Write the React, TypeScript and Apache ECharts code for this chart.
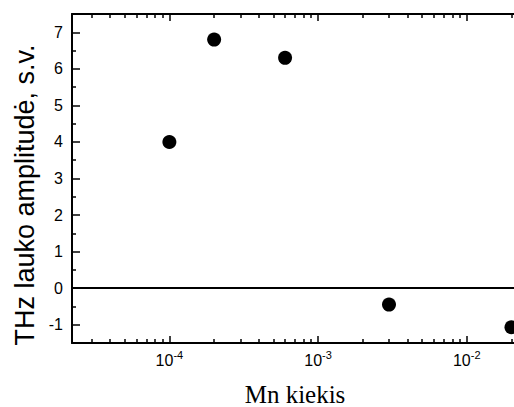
import React, { useEffect, useRef } from "react";
import * as echarts from "echarts";

const mnAmounts = [1e-4, 2e-4, 6e-4, 3e-3, 2e-2];
const thzAmplitudes = [4.0, 6.8, 6.3, -0.45, -1.07];
const yMajorTicks = [-1, 0, 1, 2, 3, 4, 5, 6, 7];
const yMinorTicks = [-0.5, 0.5, 1.5, 2.5, 3.5, 4.5, 5.5, 6.5];
const xMajorExponents = [-4, -3, -2];
const xMinorValues = [
  3e-5, 4e-5, 5e-5, 6e-5, 7e-5, 8e-5, 9e-5,
  2e-4, 3e-4, 4e-4, 5e-4, 6e-4, 7e-4, 8e-4, 9e-4,
  2e-3, 3e-3, 4e-3, 5e-3, 6e-3, 7e-3, 8e-3, 9e-3,
  2e-2,
];
const xMinLog = -4.655;
const xMaxLog = -1.682;
const yMin = -1.5;
const yMax = 7.5;

const sans = "Liberation Sans";
const serif = "Liberation Serif";

export default function App() {
  const ref = useRef<HTMLDivElement>(null);
  useEffect(() => {
    if (!ref.current) return;
    const chart = echarts.init(ref.current, undefined, { renderer: "svg" });
    const gridPos = { left: 72, top: 14, right: 0, bottom: 64, containLabel: false };
    const lineStyle = { color: "#000", width: 2 };
    const majorTickX = xMajorExponents.slice();
    const minorTickX = xMinorValues.map((v) => Math.log10(v));
    const xBase = (gridIndex: number, position: string, ticks: number[], len: number, showLine: boolean) => ({
      type: "value",
      gridIndex,
      position,
      min: xMinLog,
      max: xMaxLog,
      splitLine: { show: false },
      axisLine: { show: showLine, onZero: false, lineStyle },
      axisTick: { show: true, inside: true, length: len, customValues: ticks, lineStyle: { color: "#000", width: 1.5 } },
      axisLabel: { show: false },
    });
    chart.setOption({
      animation: false,
      grid: [gridPos, gridPos],
      xAxis: [
        {
          ...xBase(0, "bottom", majorTickX, 7, true),
          axisLabel: {
            show: true,
            customValues: xMajorExponents,
            margin: 8,
            formatter: (v: number) => `{b|10}{s|${Math.round(v)}}`,
            rich: {
              b: { fontFamily: sans, fontSize: 16, color: "#000", verticalAlign: "bottom", lineHeight: 17 },
              s: { fontFamily: sans, fontSize: 11, color: "#000", verticalAlign: "bottom", lineHeight: 12, padding: [0, 0, 8, 0] },
            },
          },
        },
        xBase(0, "top", majorTickX, 7, true),
        xBase(1, "bottom", minorTickX, 4, false),
        xBase(1, "top", minorTickX, 4, false),
      ],
      yAxis: [
        {
          type: "value",
          gridIndex: 0,
          position: "left",
          min: yMin,
          max: yMax,
          splitLine: { show: false },
          axisLine: { show: true, onZero: false, lineStyle },
          axisTick: { show: true, inside: true, length: 8, customValues: yMajorTicks, lineStyle: { color: "#000", width: 1.5 } },
          axisLabel: {
            show: true,
            customValues: yMajorTicks,
            margin: 9,
            fontFamily: sans,
            fontSize: 16,
            color: "#000",
          },
        },
        {
          type: "value",
          gridIndex: 1,
          position: "left",
          min: yMin,
          max: yMax,
          splitLine: { show: false },
          axisLine: { show: false, onZero: false },
          axisTick: { show: true, inside: true, length: 4, customValues: yMinorTicks, lineStyle: { color: "#000", width: 1.5 } },
          axisLabel: { show: false },
        },
      ],
      series: [
        {
          type: "scatter",
          xAxisIndex: 0,
          yAxisIndex: 0,
          symbol: "circle",
          symbolSize: 14,
          itemStyle: { color: "#000", opacity: 1 },
          data: mnAmounts.map((x, i) => [Math.log10(x), thzAmplitudes[i]]),
          markLine: {
            silent: true,
            symbol: "none",
            label: { show: false },
            lineStyle: { color: "#000", width: 2, type: "solid" },
            data: [{ yAxis: 0 }],
          },
        },
      ],
      graphic: [
        {
          type: "text",
          x: 25,
          y: 195,
          rotation: Math.PI / 2,
          style: {
            text: "THz lauko amplitudė, s.v.",
            fontFamily: sans,
            fontSize: 27,
            fill: "#000",
            align: "center",
            verticalAlign: "middle",
          },
        },
        {
          type: "text",
          x: 295,
          y: 394,
          style: {
            text: "Mn kiekis",
            fontFamily: serif,
            fontSize: 25,
            fill: "#000",
            align: "center",
            verticalAlign: "middle",
          },
        },
      ],
    });
    return () => chart.dispose();
  }, []);
  return (
    <div
      ref={ref}
      style={{ position: "fixed", left: 0, top: 0, width: 514, height: 407, background: "#fff" }}
    />
  );
}
